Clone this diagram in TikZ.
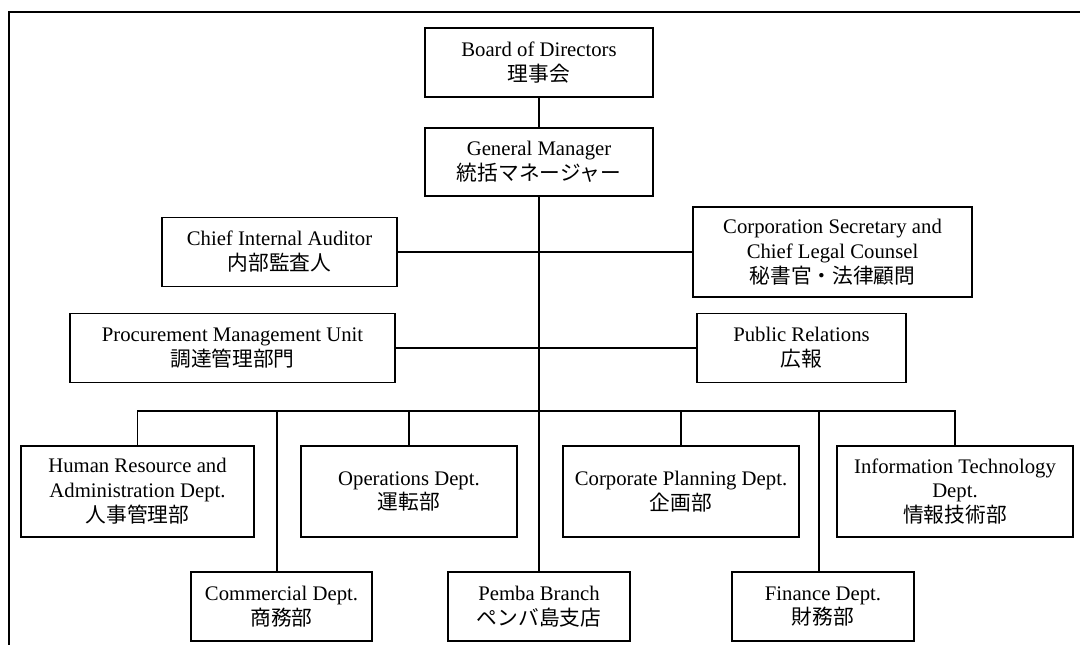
\documentclass[tikz,border=0pt]{standalone}
\usepackage{fontspec}
\setmainfont{Liberation Serif}
\newfontfamily\jp{Noto Sans CJK JP}
\tikzset{
  unit/.style={draw,rectangle,align=center,inner sep=1bp,line width=0.7bp,
    font=\fontsize{10.4}{12.5}\selectfont},
  link/.style={line width=0.7bp},
}
\begin{document}
\begin{tikzpicture}[line join=miter]
\useasboundingbox (0,0) rectangle (540bp,322.5bp);
%% frame
\draw [line width=1bp] (4.5bp,0bp) -- (4.5bp,316.5bp) -- (540bp,316.5bp);
%%
\node (board) at (269.5bp,291.25bp) [unit,minimum width=114bp,minimum height=34.5bp] {Board of Directors\\{\jp 理事会}};
  \node (gm) at (269.5bp,241.5bp) [unit,minimum width=114bp,minimum height=34bp] {General Manager\\{\jp 統括マネージャー}};
  \node (audit) at (139.75bp,196.5bp) [unit,minimum width=117.5bp,minimum height=34.5bp] {Chief Internal Auditor\\{\jp 内部監査人}};
  \node (legal) at (416.25bp,196.5bp) [unit,minimum width=139.5bp,minimum height=45bp] {Corporation Secretary and\\Chief Legal Counsel\\{\jp 秘書官・法律顧問}};
  \node (procure) at (116.25bp,148.5bp) [unit,minimum width=162.5bp,minimum height=34.5bp] {Procurement Management Unit\\{\jp 調達管理部門}};
  \node (pr) at (400.75bp,148.5bp) [unit,minimum width=104.5bp,minimum height=34.5bp] {Public Relations\\{\jp 広報}};
  \node (hr) at (68.75bp,76.75bp) [unit,minimum width=116.5bp,minimum height=45.5bp] {Human Resource and\\Administration Dept.\\{\jp 人事管理部}};
  \node (ops) at (204.5bp,76.75bp) [unit,minimum width=108bp,minimum height=45.5bp] {Operations Dept.\\{\jp 運転部}};
  \node (plan) at (340.5bp,76.75bp) [unit,minimum width=118bp,minimum height=45.5bp] {Corporate Planning Dept.\\{\jp 企画部}};
  \node (it) at (477.5bp,76.75bp) [unit,minimum width=118bp,minimum height=45.5bp] {Information Technology\\Dept.\\{\jp 情報技術部}};
  \node (comm) at (140.75bp,19.25bp) [unit,minimum width=90.5bp,minimum height=34.5bp] {Commercial Dept.\\{\jp 商務部}};
  \node (pemba) at (269.5bp,19.25bp) [unit,minimum width=91bp,minimum height=34.5bp] {Pemba Branch\\{\jp ペンバ島支店}};
  \node (fin) at (411.5bp,19.25bp) [unit,minimum width=91bp,minimum height=34.5bp] {Finance Dept.\\{\jp 財務部}};
  \coordinate (bus) at (269.5bp,117bp);
%%
  \draw [link] (board) -- (gm);
  \draw [link] (gm.south) -- (pemba.north);
  \draw [link] (audit) -- (legal);
  \draw [link] (procure) -- (pr);
  \draw [link] (hr.north) -- (hr.north |- bus) -- (it.north |- bus) -- (it.north);
  \foreach \d in {ops,plan}
    \draw [link] (\d.north) -- (\d.north |- bus);
  % these two drops sit a little left of their box centres
  \draw [link] ([xshift=-2.25bp]comm.north) -- ([xshift=-2.25bp]comm.north |- bus);
  \draw [link] ([xshift=-2bp]fin.north) -- ([xshift=-2bp]fin.north |- bus);
%
\end{tikzpicture}
\end{document}
